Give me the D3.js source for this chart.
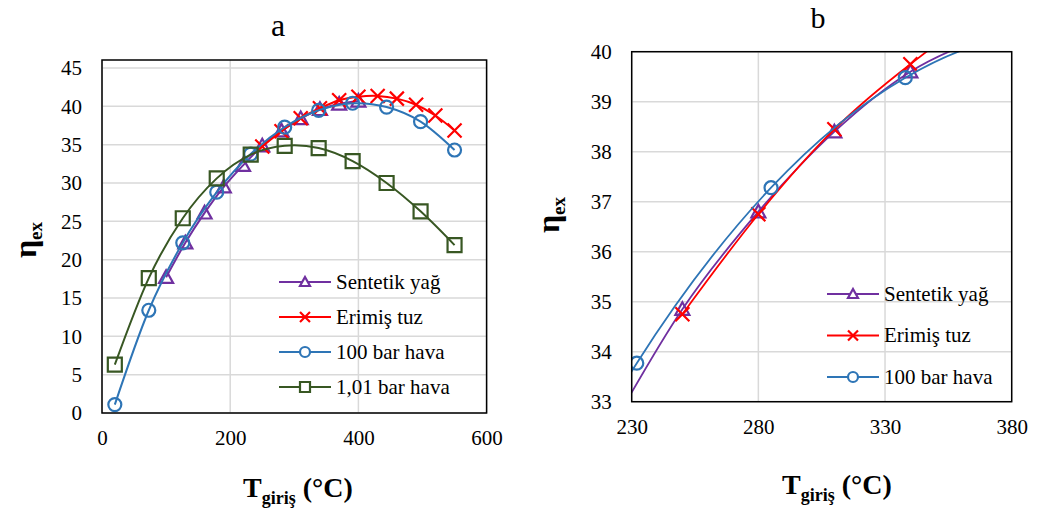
<!DOCTYPE html>
<html>
<head>
<meta charset="utf-8">
<script src="https://cdn.jsdelivr.net/npm/d3@7"></script>
<style>
  html, body { margin: 0; padding: 0; background: #fff; }
  svg text { font-family: "Liberation Serif", "Times New Roman", Times, "DejaVu Serif", serif !important; }
</style>
</head>
<body>
<svg id="chart" width="1042" height="510"></svg>
<script>
// Inlet temperature (°C) and exergy efficiency (%) for each heat-transfer fluid
const sentetikT   = [100, 130, 160, 190, 220, 250, 280, 310, 340, 370, 400];
const sentetikEta = [17.7, 22.2, 26.1, 29.5, 32.3, 34.85, 36.8, 38.4, 39.6, 40.3, 40.7];

const tuzT   = [250, 280, 310, 340, 370, 400, 430, 460, 490, 520, 550];
const tuzEta = [34.75, 36.75, 38.45, 39.75, 40.8, 41.25, 41.35, 41.0, 40.2, 38.8, 36.85];

const hava100T   = [20, 73, 126, 179, 232, 285, 338, 391, 444, 497, 550];
const hava100Eta = [1.1, 13.4, 22.2, 28.8, 33.77, 37.28, 39.48, 40.4, 39.9, 38.0, 34.3];

const hava1T   = [20, 73, 126, 179, 232, 285, 338, 391, 444, 497, 550];
const hava1Eta = [6.3, 17.6, 25.4, 30.6, 33.7, 34.85, 34.55, 32.85, 30.0, 26.3, 21.9];

// Tick labels for both panels
const ticksAX = [0, 200, 400, 600];
const ticksAY = [0, 5, 10, 15, 20, 25, 30, 35, 40, 45];
const ticksBX = [230, 280, 330, 380];
const ticksBY = [33, 34, 35, 36, 37, 38, 39, 40];

const seriesAll = [
  { name: "Sentetik yağ", T: sentetikT, eta: sentetikEta, color: "#7030A0", marker: "triangle" },
  { name: "Erimiş tuz",   T: tuzT,      eta: tuzEta,      color: "#FF0000", marker: "x" },
  { name: "100 bar hava", T: hava100T,  eta: hava100Eta,  color: "#2E75B6", marker: "circle" },
  { name: "1,01 bar hava", T: hava1T,   eta: hava1Eta,    color: "#385723", marker: "square" }
];

const FONT = '"Liberation Serif", "Times New Roman", Times, "DejaVu Serif", serif';
const svg = d3.select("#chart");

function markerPath(type, s) {
  const h = s / 2;
  switch (type) {
    case "triangle": return `M0,${-h}L${h},${h * 0.8}L${-h},${h * 0.8}Z`;
    case "x": return `M${-h},${-h}L${h},${h}M${-h},${h}L${h},${-h}`;
    case "square": return `M${-h},${-h}H${h}V${h}H${-h}Z`;
    default: return d3.symbol(d3.symbolCircle, Math.PI * h * h)();
  }
}

function drawPanel(cfg) {
  const { x, y, xTicks, yTicks, series, id } = cfg;
  const [x0, x1] = x.range();
  const [y0, y1] = y.range();
  const g = svg.append("g").style("font-family", FONT);

  // clip region for the plot area
  svg.append("clipPath").attr("id", "clip-" + id)
    .append("rect").attr("x", x0).attr("y", y1).attr("width", x1 - x0).attr("height", y0 - y1);

  // gridlines
  g.append("g").selectAll("line").data(yTicks).join("line")
    .attr("x1", x0).attr("x2", x1)
    .attr("y1", d => y(d)).attr("y2", d => y(d))
    .attr("stroke", "#d9d9d9").attr("stroke-width", 1.5);
  g.append("g").selectAll("line").data(xTicks).join("line")
    .attr("x1", d => x(d)).attr("x2", d => x(d))
    .attr("y1", y1).attr("y2", y0)
    .attr("stroke", "#d9d9d9").attr("stroke-width", 1.5);

  // axis tick labels
  const ax = d3.axisBottom(x).tickValues(xTicks).tickFormat(d3.format("d"))
    .tickSize(0).tickPadding(cfg.xPad);
  const gx = g.append("g").attr("transform", `translate(0,${y0})`).call(ax)
    .attr("font-family", null).attr("font-size", null);
  gx.select(".domain").remove();
  gx.selectAll("text").attr("font-size", cfg.tickFont).attr("fill", "#000")
    .style("font-family", FONT);

  const ay = d3.axisLeft(y).tickValues(yTicks).tickFormat(d3.format("d"))
    .tickSize(0).tickPadding(cfg.yPad);
  const gy = g.append("g").attr("transform", `translate(${x0},0)`).call(ay)
    .attr("font-family", null).attr("font-size", null);
  gy.select(".domain").remove();
  gy.selectAll("text").attr("font-size", cfg.tickFont).attr("fill", "#000")
    .style("font-family", FONT);

  // series lines and markers
  const plot = g.append("g").attr("clip-path", `url(#clip-${id})`);
  const line = d3.line().curve(d3.curveCardinal.tension(0))
    .x(d => x(d[0])).y(d => y(d[1]));
  series.forEach(s => {
    const pts = s.T.map((t, i) => [t, s.eta[i]]);
    plot.append("path").attr("d", line(pts))
      .attr("fill", "none").attr("stroke", s.color).attr("stroke-width", cfg.lineW);
    const [dx0, dx1] = x.domain();
    const [dy0, dy1] = y.domain();
    plot.selectAll(null).data(pts.filter(p => p[0] >= dx0 && p[0] <= dx1 && p[1] >= dy0 && p[1] <= dy1))
      .join("path")
      .attr("transform", p => `translate(${x(p[0])},${y(p[1])})`)
      .attr("d", markerPath(s.marker, s.marker === "circle" ? 13 : 14))
      .attr("fill", "none").attr("stroke", s.color).attr("stroke-width", 2.2);
  });

  // plot border
  g.append("rect").attr("x", x0).attr("y", y1).attr("width", x1 - x0).attr("height", y0 - y1)
    .attr("fill", "none").attr("stroke", "#000").attr("stroke-width", 1.5);

  // legend
  const lg = g.append("g");
  series.forEach((s, i) => {
    const ly = cfg.legend.y + i * cfg.legend.dy;
    lg.append("line").attr("x1", cfg.legend.x).attr("x2", cfg.legend.x + 52)
      .attr("y1", ly).attr("y2", ly).attr("stroke", s.color).attr("stroke-width", 2);
    lg.append("path").attr("transform", `translate(${cfg.legend.x + 26},${ly})`)
      .attr("d", markerPath(s.marker, 10))
      .attr("fill", "#fff").attr("stroke", s.color).attr("stroke-width", 2.2);
    lg.append("text").attr("x", cfg.legend.x + 57).attr("y", ly).attr("dy", "0.33em")
      .attr("font-size", cfg.legendFont).style("font-family", FONT).text(s.name);
  });

  // panel title
  g.append("text").attr("x", cfg.title.x).attr("y", cfg.title.y)
    .attr("text-anchor", "middle").attr("font-size", cfg.title.size)
    .style("font-family", FONT).text(cfg.title.text);

  // y-axis title
  const yt = g.append("text").attr("transform", `translate(${cfg.ylab.x},${cfg.ylab.y}) rotate(-90)`)
    .attr("text-anchor", "middle").attr("font-weight", "bold").style("font-family", FONT);
  yt.append("tspan").attr("font-size", 32).text("η");
  yt.append("tspan").attr("font-size", 19).attr("dy", 6).text("ex");

  // x-axis title
  const xt = g.append("text").attr("x", cfg.xlab.x).attr("y", cfg.xlab.y)
    .attr("text-anchor", "middle").attr("font-weight", "bold").style("font-family", FONT);
  xt.append("tspan").attr("font-size", 28).text("T");
  xt.append("tspan").attr("font-size", 18).attr("dy", 7).text("giriş");
  xt.append("tspan").attr("font-size", 28).attr("dy", -7).text(" (°C)");
}

drawPanel({
  id: "a",
  x: d3.scaleLinear().domain([0, 600]).range([102, 486.6]),
  y: d3.scaleLinear().domain([0, 46.04]).range([413, 60]),
  xTicks: ticksAX, yTicks: ticksAY,
  series: seriesAll,
  tickFont: 21, legendFont: 21, lineW: 2,
  xPad: 17, yPad: 20,
  legend: { x: 279, y: 282, dy: 35 },
  title: { text: "a", x: 278, y: 36, size: 32 },
  ylab: { x: 36, y: 240 },
  xlab: { x: 298, y: 497 }
});

drawPanel({
  id: "b",
  x: d3.scaleLinear().domain([230, 380]).range([631.7, 1011.7]),
  y: d3.scaleLinear().domain([33, 40]).range([401.7, 51.7]),
  xTicks: ticksBX, yTicks: ticksBY,
  series: seriesAll.slice(0, 3),
  tickFont: 21, legendFont: 21, lineW: 1.8,
  xPad: 17, yPad: 20,
  legend: { x: 827, y: 294, dy: 41.5 },
  title: { text: "b", x: 818, y: 28, size: 30 },
  ylab: { x: 559, y: 215 },
  xlab: { x: 837, y: 494 }
});
</script>
</body>
</html>
